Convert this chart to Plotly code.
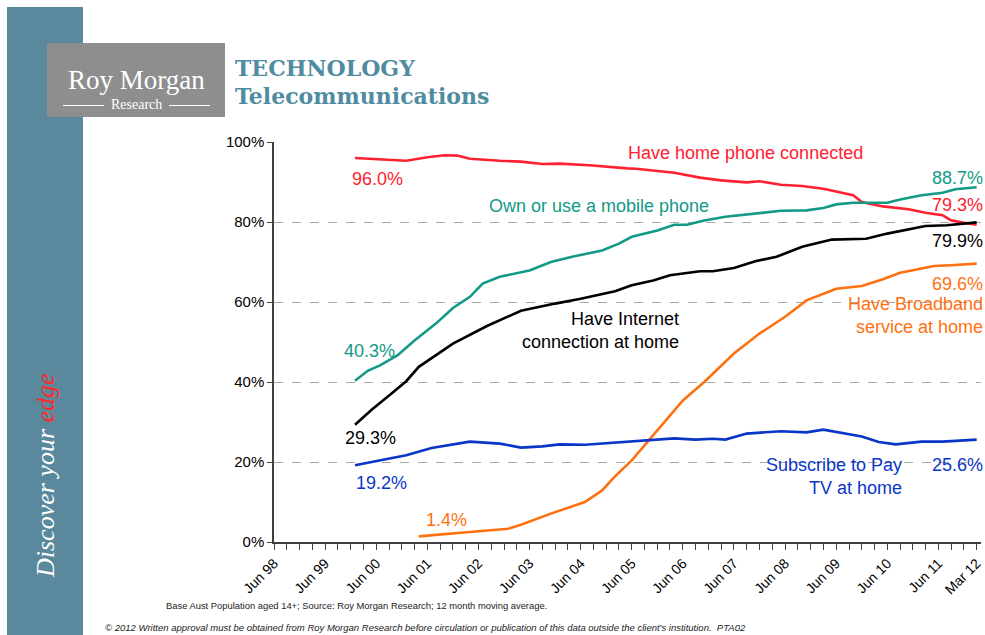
import plotly.graph_objects as go

# ---------------- data (12 month moving averages, % of Aust population 14+) ----------------
phone_dates = ["2000-01", "2000-04", "2000-08", "2001-01", "2001-06", "2001-10", "2002-01", "2002-04",
               "2002-11", "2003-04", "2003-09", "2004-01", "2004-08", "2005-02", "2005-05", "2005-07",
               "2006-01", "2006-04", "2006-10", "2007-03", "2007-09", "2007-12", "2008-05", "2008-10",
               "2009-03", "2009-07", "2009-10", "2009-12", "2010-05", "2010-11", "2011-03", "2011-07",
               "2011-09", "2011-12", "2012-03"]
phone_vals = [96.0, 95.8, 95.6, 95.3, 96.2, 96.7, 96.6, 95.8,
              95.3, 95.1, 94.5, 94.6, 94.2, 93.6, 93.4, 93.3,
              92.7, 92.3, 91.1, 90.4, 89.9, 90.2, 89.3, 89.0,
              88.3, 87.3, 86.7, 85.0, 83.9, 83.2, 82.3, 81.7,
              80.4, 79.8, 79.3]

mobile_dates = ["2000-01", "2000-04", "2000-07", "2000-11", "2001-03", "2001-08", "2001-12", "2002-04",
                "2002-07", "2002-11", "2003-06", "2003-11", "2004-04", "2004-11", "2005-03", "2005-06",
                "2005-12", "2006-04", "2006-07", "2006-11", "2007-04", "2007-09", "2008-01", "2008-05",
                "2008-11", "2009-03", "2009-06", "2009-10", "2010-06", "2010-09", "2011-02", "2011-07",
                "2011-10", "2012-03"]
mobile_vals = [40.3, 42.8, 44.2, 46.7, 50.4, 54.6, 58.5, 61.3,
               64.6, 66.3, 67.9, 70.0, 71.3, 72.9, 74.6, 76.3,
               77.9, 79.3, 79.3, 80.4, 81.3, 81.9, 82.5, 82.8,
               82.9, 83.5, 84.4, 84.8, 84.8, 85.6, 86.7, 87.3,
               88.2, 88.7]

internet_dates = ["2000-01", "2000-05", "2000-10", "2001-01", "2001-04", "2001-08", "2001-12", "2002-08",
                  "2003-04", "2003-12", "2004-06", "2005-02", "2005-06", "2005-11", "2006-03", "2006-10",
                  "2007-01", "2007-06", "2007-11", "2008-04", "2008-10", "2009-05", "2009-09", "2010-01",
                  "2010-06", "2010-11", "2011-03", "2011-08", "2011-12", "2012-03"]
internet_vals = [29.3, 33.1, 37.5, 40.2, 43.8, 46.8, 49.6, 54.0,
                 57.8, 59.6, 60.8, 62.7, 64.2, 65.4, 66.7, 67.7,
                 67.7, 68.5, 70.2, 71.3, 73.8, 75.6, 75.7, 75.8,
                 77.1, 78.1, 79.0, 79.2, 79.5, 79.9]

broadband_dates = ["2001-04", "2001-09", "2002-04", "2003-01", "2003-04", "2003-11", "2004-07", "2004-11",
                   "2005-02", "2005-06", "2005-10", "2006-02", "2006-06", "2006-11", "2007-01", "2007-06",
                   "2007-12", "2008-06", "2008-11", "2009-06", "2009-12", "2010-05", "2010-09", "2011-02",
                   "2011-05", "2011-09", "2012-03"]
broadband_vals = [1.4, 1.9, 2.5, 3.3, 4.3, 7.1, 10.0, 12.9,
                  16.4, 20.4, 25.4, 30.6, 35.4, 40.0, 42.1, 47.1,
                  52.1, 56.3, 60.4, 63.3, 64.0, 65.7, 67.3, 68.3,
                  69.0, 69.2, 69.6]

paytv_dates = ["2000-01", "2000-07", "2001-01", "2001-07", "2001-12", "2002-04", "2002-11", "2003-04",
               "2003-09", "2004-01", "2004-07", "2005-02", "2005-05", "2005-10", "2006-04", "2006-09",
               "2007-01", "2007-04", "2007-09", "2008-05", "2008-11", "2009-03", "2009-07", "2009-12",
               "2010-04", "2010-08", "2011-02", "2011-07", "2012-03"]
paytv_vals = [19.2, 20.4, 21.7, 23.5, 24.3, 25.1, 24.6, 23.6,
              23.9, 24.4, 24.3, 24.8, 25.0, 25.4, 25.9, 25.6,
              25.8, 25.6, 27.1, 27.7, 27.4, 28.1, 27.3, 26.4,
              25.0, 24.4, 25.1, 25.1, 25.6]

tick_dates = ["1998-06-01", "1999-06-01", "2000-06-01", "2001-06-01", "2002-06-01", "2003-06-01",
              "2004-06-01", "2005-06-01", "2006-06-01", "2007-06-01", "2008-06-01", "2009-06-01",
              "2010-06-01", "2011-06-01", "2012-03-01"]
tick_labels = ["Jun 98", "Jun 99", "Jun 00", "Jun 01", "Jun 02", "Jun 03", "Jun 04", "Jun 05",
               "Jun 06", "Jun 07", "Jun 08", "Jun 09", "Jun 10", "Jun 11", "Mar 12"]

# ---------------- styling ----------------
RED = "#ff2030"
TEAL = "#129a86"
BLACK = "#000000"
ORANGE = "#ff7010"
BLUE = "#0a36c8"
BAND = "#5a899d"
TITLE = "#4f8ba1"
SANS = "Liberation Sans, Arial, sans-serif"
SERIF = "Liberation Serif, Times New Roman, serif"

W, H = 985, 635
ML, MR, MT, MB = 274, 4, 142, 93
PW, PH = W - ML - MR, H - MT - MB


def px(x, y):
    """pixel position on the page -> paper coordinates"""
    return (x - ML) / PW, (H - MB - y) / PH


fig = go.Figure()
series = [
    (phone_dates, phone_vals, RED),
    (mobile_dates, mobile_vals, TEAL),
    (internet_dates, internet_vals, BLACK),
    (broadband_dates, broadband_vals, ORANGE),
    (paytv_dates, paytv_vals, BLUE),
]
for d, v, c in series:
    fig.add_trace(go.Scatter(x=d, y=v, mode="lines", line=dict(color=c, width=2.6),
                             showlegend=False, hoverinfo="x+y", cliponaxis=False))

ann = []


def label(text, x, y, color, xanchor="center", size=18, align="center", **kw):
    ax, ay = px(x, y)
    ann.append(dict(text=text, x=ax, y=ay, xref="paper", yref="paper", xanchor=xanchor,
                    yanchor="middle", showarrow=False, align=align, borderpad=0,
                    font=dict(family=kw.get("family", SANS), size=size, color=color)))


label("Have home phone connected", 745, 153, RED)
label("96.0%", 377, 179, RED)
label("Own or use a mobile phone", 488, 206, TEAL, xanchor="left")
label("40.3%", 369, 351, TEAL)
label("Have Internet<br>connection at home", 680, 330, BLACK, xanchor="right", align="right")
label("29.3%", 370, 438, BLACK)
label("88.7%", 984, 178, TEAL, xanchor="right")
label("79.3%", 984, 205, RED, xanchor="right")
label("79.9%", 984, 241, BLACK, xanchor="right")
label("69.6%", 984, 284, ORANGE, xanchor="right")
label("Have Broadband<br>service at home", 984, 315, ORANGE, xanchor="right", align="right")
label("1.4%", 446, 520, ORANGE)
label("19.2%", 381, 483, BLUE)
label("Subscribe to Pay<br>TV at home", 903, 476, BLUE, xanchor="right", align="right")
label("25.6%", 984, 465, BLUE, xanchor="right")

# titles / branding
label("<b>TECHNOLOGY</b>", 234, 68, TITLE, xanchor="left", size=22, family="DejaVu Serif, serif")
label("<b>Telecommunications</b>", 234, 96, TITLE, xanchor="left", size=22, family="DejaVu Serif, serif")
label("Roy Morgan", 136, 80, "white", size=27, family=SERIF)
label("Research", 136, 105, "white", size=14, family=SERIF)

# footnotes
label("Base Aust Population aged 14+; Source: Roy Morgan Research; 12 month moving average.",
      165, 605, "#222222", xanchor="left", size=9.4)
label("<i>© 2012 Written approval must be obtained from Roy Morgan Research before circulation or "
      "publication of this data outside the client's institution.  PTA02</i>",
      104, 627, "#222222", xanchor="left", size=9.5)

# vertical slogan
sx, sy = px(45, 475)
ann.append(dict(text="<i>Discover your <span style='color:#ff2a2a'>edge</span></i>", x=sx, y=sy,
                xref="paper", yref="paper", xanchor="center", yanchor="middle", textangle=-90,
                showarrow=False, font=dict(family=SERIF, size=26, color="white")))

shapes = []


def rect(x0, y0, x1, y1, color):
    a0, b0 = px(x0, y1)
    a1, b1 = px(x1, y0)
    shapes.append(dict(type="rect", xref="paper", yref="paper", x0=a0, y0=b0, x1=a1, y1=b1,
                       fillcolor=color, line=dict(width=0), layer="below"))


def hline(x0, x1, y, color, w=1):
    a0, b = px(x0, y)
    a1, _ = px(x1, y)
    shapes.append(dict(type="line", xref="paper", yref="paper", x0=a0, y0=b, x1=a1, y1=b,
                       line=dict(color=color, width=w), layer="above"))


rect(7, 7, 83, 640, BAND)
rect(47, 43, 225, 117, "#8e8e8e")
hline(63, 104, 105.5, "white", 1)
hline(169, 210, 105.5, "white", 1)

fig.update_layout(
    width=W, height=H,
    margin=dict(l=ML, r=MR, t=MT, b=MB, autoexpand=False),
    paper_bgcolor="white", plot_bgcolor="white",
    annotations=ann, shapes=shapes,
    font=dict(family=SANS, color="black"),
    xaxis=dict(type="date", range=["1998-06-01", "2012-04-01"],
               tickvals=tick_dates, ticktext=tick_labels, tickangle=-45,
               ticklabeloverflow="allow",
               tickfont=dict(size=14, color="black"),
               ticks="outside", ticklen=6, tickcolor="#404040", tickwidth=1,
               minor=dict(dtick="M3", tick0="1998-06-01", ticks="outside", ticklen=6,
                          tickcolor="#404040", tickwidth=1, showgrid=False),
               showline=True, linecolor="#404040", linewidth=1.5,
               showgrid=False, zeroline=False, fixedrange=True),
    yaxis=dict(range=[0, 100], dtick=20, ticksuffix="%", tickfont=dict(size=15, color="black"),
               ticks="outside", ticklen=5, tickcolor="#404040",
               showline=True, linecolor="#404040", linewidth=1.5,
               showgrid=True, gridcolor="#a8a8a8", griddash="dash", gridwidth=1,
               zeroline=False, fixedrange=True),
)

fig.write_html("out.html", config={"displayModeBar": False},
               post_script="document.body.style.margin='0';document.body.style.overflow='hidden';")
